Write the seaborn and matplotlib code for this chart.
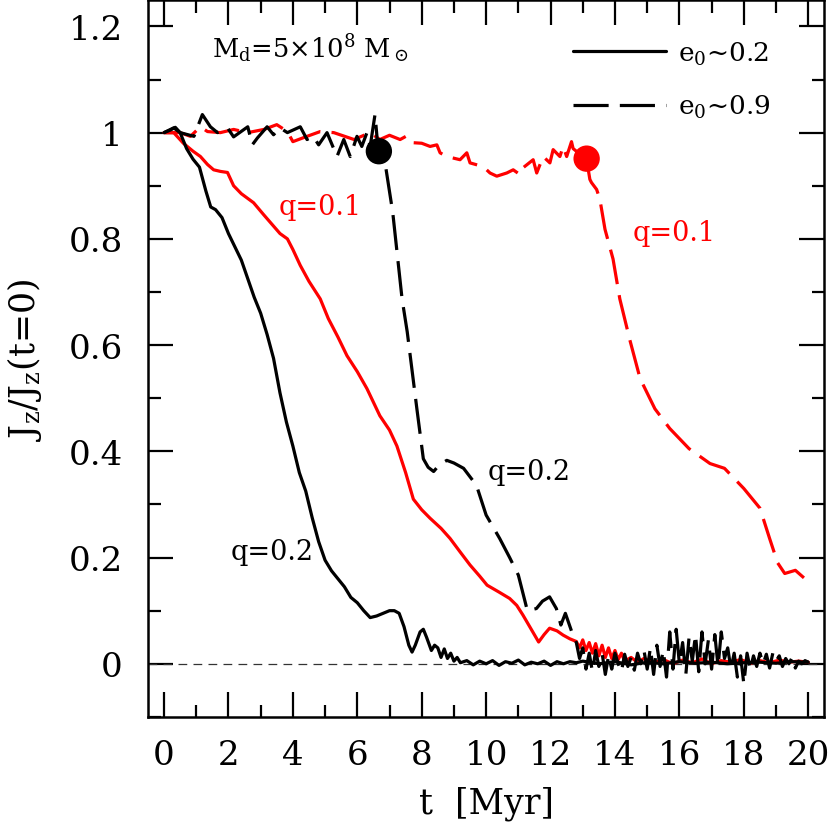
import numpy as np
import pandas as pd
import matplotlib
matplotlib.use("Agg")
import matplotlib.pyplot as plt
import seaborn as sns
from matplotlib.lines import Line2D
from matplotlib.ticker import MultipleLocator

# ---------------- data ----------------
# q=0.2, e0~0.2 (black solid)
t_bs = [0.0, 0.2, 0.35, 0.5, 0.7, 0.9, 1.1, 1.3, 1.45, 1.6, 1.8, 2.0, 2.2, 2.4, 2.6, 2.8,
        3.0, 3.2, 3.4, 3.6, 3.8, 4.0, 4.2, 4.4, 4.6, 4.8, 5.0, 5.2, 5.4, 5.6, 5.8, 6.0,
        6.2, 6.4, 6.6, 6.8, 7.0, 7.15, 7.3, 7.45, 7.6, 7.7, 7.8, 7.95, 8.05, 8.15, 8.3,
        8.4, 8.5, 8.6, 8.7, 8.8, 8.9, 9.0, 9.1, 9.2, 9.4, 9.6, 9.8, 10.0, 10.2, 10.4,
        10.6, 10.8, 11.0, 11.2, 11.4, 11.6, 11.8, 12.0, 12.2, 12.4, 12.6, 12.8, 13.0,
        13.5, 14.0, 14.5, 15.0, 15.5, 16.0, 16.5, 17.0, 17.5, 18.0, 18.5, 19.0, 19.5, 20.0]
j_bs = [1.0, 1.005, 1.01, 1.0, 0.97, 0.95, 0.935, 0.89, 0.86, 0.855, 0.84, 0.81, 0.785,
        0.76, 0.725, 0.69, 0.66, 0.62, 0.575, 0.51, 0.455, 0.41, 0.36, 0.325, 0.275,
        0.23, 0.195, 0.175, 0.16, 0.145, 0.125, 0.115, 0.1, 0.087, 0.09, 0.095, 0.1,
        0.1, 0.095, 0.07, 0.035, 0.022, 0.035, 0.06, 0.065, 0.05, 0.025, 0.035, 0.03,
        0.012, 0.028, 0.01, 0.02, 0.005, 0.012, 0.002, 0.006, -0.002, 0.005, 0.0, 0.006,
        -0.003, 0.004, 0.001, 0.007, -0.002, 0.003, 0.0, 0.005, -0.003, 0.004, 0.0,
        0.004, 0.002, 0.005, 0.0, 0.004, -0.002, 0.003, 0.0, 0.004, 0.001, 0.003, 0.0,
        0.002, 0.003, 0.001, 0.004, 0.003]

# q=0.1, e0~0.2 (red solid)
t_rs = [0.0, 0.3, 0.6, 0.9, 1.13, 1.35, 1.54, 1.75, 1.97, 2.16, 2.4, 2.78, 3.1, 3.4, 3.6,
        3.83, 4.0, 4.23, 4.5, 4.85, 5.1, 5.4, 5.68, 6.0, 6.3, 6.7, 7.0, 7.23, 7.5, 7.74,
        8.0, 8.26, 8.6, 8.88, 9.2, 9.5, 9.8, 10.03, 10.4, 10.73, 10.95, 11.14, 11.4,
        11.63, 11.8, 11.97, 12.2, 12.39, 12.6, 12.8, 12.9, 13.0, 13.1, 13.2, 13.3, 13.4,
        13.5, 13.6, 13.7, 13.8, 13.9, 14.0, 14.1, 14.2, 14.3, 14.5, 14.7, 14.9, 15.2,
        15.5, 15.8, 16.1, 16.4, 16.7, 17.0, 17.3, 17.6, 17.9, 18.2, 18.5, 18.8, 19.1,
        19.4, 19.7, 20.0]
j_rs = [1.0, 1.0, 0.98, 0.965, 0.955, 0.94, 0.93, 0.927, 0.925, 0.9, 0.885, 0.868, 0.845,
        0.824, 0.81, 0.8, 0.78, 0.75, 0.72, 0.687, 0.65, 0.615, 0.58, 0.55, 0.518, 0.467,
        0.44, 0.41, 0.36, 0.31, 0.29, 0.274, 0.255, 0.236, 0.21, 0.186, 0.165, 0.148,
        0.135, 0.123, 0.11, 0.092, 0.065, 0.041, 0.055, 0.067, 0.062, 0.054, 0.047, 0.042,
        0.03, 0.045, 0.025, 0.04, 0.02, 0.038, 0.015, 0.035, 0.012, 0.03, 0.01, 0.025,
        0.008, 0.02, 0.005, 0.012, 0.003, 0.01, 0.002, 0.008, 0.0, 0.007, 0.002, 0.009,
        0.0, 0.006, 0.003, 0.008, 0.001, 0.006, 0.002, 0.007, 0.003, 0.005, 0.003]

# q=0.2, e0~0.9 (black dashed)
t_bd = [0.0, 0.3, 0.5, 0.93, 1.19, 1.44, 1.66, 1.97, 2.16, 2.6, 2.74, 2.9, 3.2, 3.4, 3.6,
        3.83, 4.23, 4.44, 4.63, 4.8, 5.06, 5.37, 5.58, 5.78, 5.99, 6.14, 6.3, 6.4, 6.55,
        6.65, 6.87, 7.1, 7.39, 7.55, 7.85, 8.05, 8.2, 8.37, 8.55, 8.78, 9.0, 9.3, 9.7,
        10.0, 10.42, 10.73, 11.0, 11.28, 11.56, 11.75, 11.97, 12.18, 12.32, 12.46, 12.66,
        12.8, 12.9, 13.0, 13.1, 13.2, 13.3, 13.4, 13.5, 13.6, 13.7, 13.8, 13.9, 14.0,
        14.1, 14.2, 14.3, 14.4, 14.5, 14.6, 14.7, 14.8, 14.9, 15.0, 15.1, 15.2, 15.3,
        15.4, 15.5, 15.6, 15.7, 15.8, 15.9, 16.0, 16.1, 16.2, 16.3, 16.4, 16.5, 16.6,
        16.7, 16.8, 16.9, 17.0, 17.1, 17.2, 17.3, 17.4, 17.5, 17.6, 17.7, 17.8, 17.9,
        18.0, 18.1, 18.2, 18.3, 18.4, 18.5, 18.6, 18.7, 18.8, 18.9, 19.0, 19.1, 19.2,
        19.3, 19.4, 19.5, 19.6, 19.7, 19.8, 19.9, 20.0]
j_bd = [1.0, 1.009, 1.0, 0.993, 1.034, 1.011, 1.0, 1.009, 0.992, 1.011, 0.977, 0.99,
        1.011, 0.996, 1.009, 1.0, 1.011, 0.987, 0.993, 0.977, 1.0, 0.955, 0.987, 0.955,
        0.993, 0.974, 1.0, 0.974, 1.034, 0.966, 0.94, 0.85, 0.687, 0.625, 0.48, 0.386,
        0.37, 0.362, 0.375, 0.383, 0.378, 0.368, 0.336, 0.28, 0.236, 0.2, 0.167, 0.1,
        0.104, 0.118, 0.126, 0.104, 0.073, 0.095, 0.06, 0.04, 0.01, 0.03, -0.01, 0.02,
        -0.015, 0.025, -0.005, 0.02, -0.02, 0.015, -0.01, 0.02, 0.0, -0.015, 0.018,
        -0.005, 0.012, -0.012, 0.02, 0.0, 0.025, -0.01, 0.03, -0.02, 0.035, -0.005,
        0.025, -0.025, 0.06, -0.01, 0.065, 0.0, 0.04, -0.02, 0.05, 0.005, 0.055, -0.015,
        0.06, 0.0, 0.045, -0.01, 0.055, -0.005, 0.06, 0.01, 0.03, -0.01, 0.02, -0.025,
        0.015, -0.038, 0.02, -0.01, 0.015, -0.005, 0.02, 0.0, 0.018, -0.008, 0.02, 0.005,
        0.015, -0.005, 0.01, 0.0, 0.012, -0.008, 0.005, 0.0, 0.006, 0.003]

# q=0.1, e0~0.9 (red dashed)
t_rd = [0.0, 0.5, 0.82, 1.13, 1.35, 1.75, 2.16, 2.6, 3.1, 3.5, 3.83, 4.0, 4.44, 4.85, 5.27,
        5.9, 6.4, 6.7, 7.0, 7.33, 7.54, 7.74, 8.0, 8.26, 8.47, 8.57, 8.78, 9.19, 9.4,
        9.5, 9.91, 10.12, 10.33, 10.64, 10.84, 11.05, 11.15, 11.46, 11.57, 11.77, 11.98,
        12.08, 12.29, 12.39, 12.5, 12.65, 12.7, 13.0, 13.12, 13.22, 13.27, 13.43, 13.53,
        13.69, 13.94, 14.15, 14.46, 14.78, 15.24, 15.7, 16.3, 16.95, 17.4, 18.0, 18.5,
        18.8, 19.05, 19.27, 19.6, 19.9]
j_rd = [1.0, 1.0, 0.993, 1.011, 1.002, 1.0, 1.006, 1.0, 1.006, 1.015, 1.002, 0.983, 0.993,
        1.002, 1.0, 0.987, 1.0, 0.987, 0.995, 0.987, 0.994, 0.981, 0.98, 0.974, 0.977,
        0.962, 0.955, 0.949, 0.962, 0.943, 0.936, 0.924, 0.918, 0.924, 0.93, 0.921,
        0.934, 0.949, 0.924, 0.955, 0.943, 0.968, 0.955, 0.974, 0.955, 0.983, 0.97, 0.955,
        0.949, 0.912, 0.906, 0.893, 0.875, 0.818, 0.762, 0.687, 0.61, 0.537, 0.48, 0.443,
        0.405, 0.377, 0.368, 0.33, 0.293, 0.236, 0.19, 0.17, 0.176, 0.16]

# markers where the e0~0.9 runs start sinking
dot_t = [6.67, 13.12]
dot_j = [0.965, 0.951]
dot_c = ["black", "red"]

# ---------------- style ----------------
sns.set_style("ticks")
plt.rcParams['font.family'] = ['DejaVu Serif']
plt.rcParams['mathtext.fontset'] = 'dejavuserif'
plt.rcParams['text.color'] = 'black'
plt.rcParams['axes.labelcolor'] = 'black'
plt.rcParams['xtick.color'] = 'black'
plt.rcParams['ytick.color'] = 'black'

fig = plt.figure(figsize=(8.31, 8.29), dpi=100)
ax = fig.add_axes([0.178, 0.134, 0.814, 0.865])

LW = 2.3
DASH = (11, 3.5)

sns.lineplot(x=[-0.5, 20.5], y=[0, 0], ax=ax, color="#333333", linewidth=0.9,
             estimator=None, sort=False)
ax.lines[-1].set_dashes((7, 5))

sns.lineplot(x=t_rs, y=j_rs, ax=ax, color="red", linewidth=LW, estimator=None, sort=False)
sns.lineplot(x=t_rd, y=j_rd, ax=ax, color="red", linewidth=LW, estimator=None, sort=False)
ax.lines[-1].set_dashes(DASH)
sns.lineplot(x=t_bs, y=j_bs, ax=ax, color="black", linewidth=LW, estimator=None, sort=False)
sns.lineplot(x=t_bd, y=j_bd, ax=ax, color="black", linewidth=LW, estimator=None, sort=False)
ax.lines[-1].set_dashes(DASH)

ax.scatter(dot_t, dot_j, s=360, c=dot_c, zorder=5, linewidths=0)

ax.set_xlim(-0.5, 20.5)
ax.set_ylim(-0.1, 1.25)
ax.xaxis.set_minor_locator(MultipleLocator(1))
ax.yaxis.set_minor_locator(MultipleLocator(0.1))
ax.set_xticks(np.arange(0, 21, 2))
ax.set_xticklabels([str(v) for v in range(0, 21, 2)])
ax.set_yticks([0, 0.2, 0.4, 0.6, 0.8, 1.0, 1.2])
ax.set_yticklabels(["0", "0.2", "0.4", "0.6", "0.8", "1", "1.2"])
ax.tick_params(which='both', direction='in', top=True, right=True, width=1.6,
               colors='black', labelsize=24.5)
ax.tick_params(which='major', length=18)
ax.tick_params(which='minor', length=9)
ax.tick_params(axis='x', pad=16)
ax.tick_params(axis='y', pad=18)
for s in ax.spines.values():
    s.set_linewidth(1.8)
    s.set_color('black')

ax.set_xlabel("t  [Myr]", fontsize=25, labelpad=10)
ax.set_ylabel(r"J$_\mathregular{z}$/J$_\mathregular{z}$(t=0)", fontsize=25, labelpad=18)

ax.text(1.5, 1.16, r"M$_\mathregular{d}$=5$\times$10$^\mathregular{8}$ M$_\odot$",
        fontsize=18.5, va='center', ha='left')
ax.text(3.55, 0.86, "q=0.1", color='red', fontsize=19.5, va='center', ha='left')
ax.text(14.55, 0.812, "q=0.1", color='red', fontsize=19.5, va='center', ha='left')
ax.text(10.06, 0.362, "q=0.2", color='black', fontsize=19.5, va='center', ha='left')
ax.text(2.06, 0.212, "q=0.2", color='black', fontsize=19.5, va='center', ha='left')

h1 = Line2D([], [], color='black', linewidth=LW)
h2 = Line2D([], [], color='black', linewidth=LW, dashes=DASH)
ax.legend([h1, h2], [r"e$_\mathregular{0}$~0.2", r"e$_\mathregular{0}$~0.9"],
          loc='upper right', bbox_to_anchor=(0.955, 0.978), frameon=False,
          fontsize=19, handlelength=3.5, handletextpad=0.45, labelspacing=1.0)

fig.savefig("out.png", dpi=100)
